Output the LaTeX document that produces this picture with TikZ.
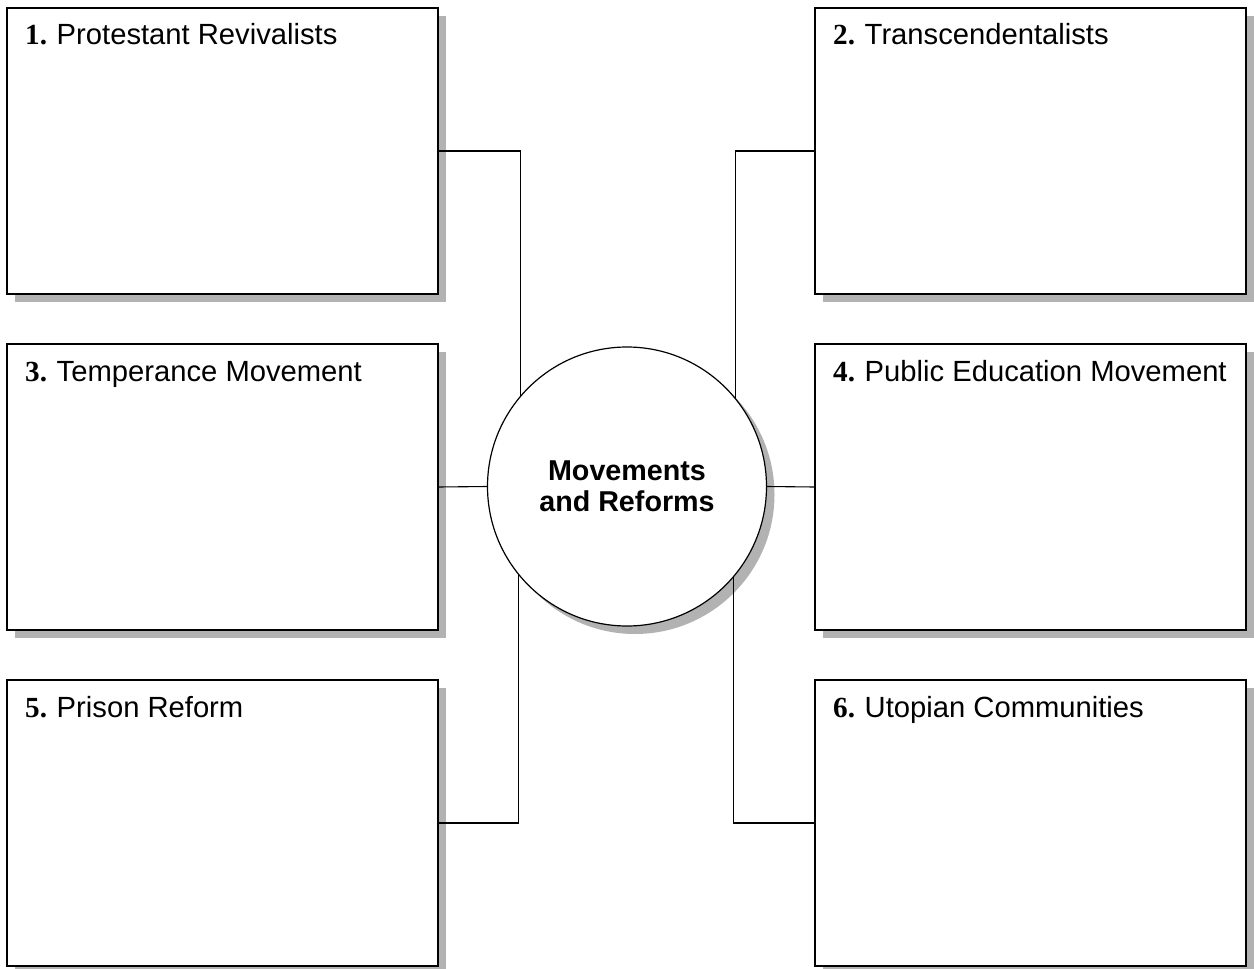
\documentclass[tikz,border=0pt]{standalone}
\usepackage{fontspec}
\setmainfont{Liberation Sans}
\newfontfamily\numfont{Liberation Serif}
\usetikzlibrary{shadows}
\begin{document}
\begin{tikzpicture}[x=1pt,y=-1pt,
  shadowed/.style={drop shadow={shadow xshift=8pt,shadow yshift=-8pt,fill=black!30,opacity=1}},
  box/.style={draw=black,line width=1.3pt,fill=white,minimum width=431pt,minimum height=286pt,inner sep=0pt,outer sep=0pt,anchor=north west,shadowed},
  hub/.style={draw=black,line width=1.2pt,fill=white,circle,minimum size=279pt,inner sep=0pt,outer sep=0pt,shadowed,align=center,font=\fontsize{28.7}{30.5}\selectfont\bfseries},
  lbl/.style={anchor=base west,inner sep=0pt,font=\fontsize{29.2}{32}\selectfont},
  conn/.style={draw=black,line width=1.1pt}
]
\useasboundingbox (0,0) rectangle (1254,969);
\node[box] (b1) at (7,8) {};
\node[box] (b2) at (815,8) {};
\node[box] (b3) at (7,344) {};
\node[box] (b4) at (815,344) {};
\node[box] (b5) at (7,680) {};
\node[box] (b6) at (815,680) {};
\node[hub] (c) at (627,486.5) {Movements\\and Reforms};

\node[lbl] (t1) at (25,45) {{\numfont\bfseries 1.}\hspace{0.33em}Protestant Revivalists};
\node[lbl] (t2) at (833,45) {{\numfont\bfseries 2.}\hspace{0.33em}Transcendentalists};
\node[lbl] (t3) at (25,381) {{\numfont\bfseries 3.}\hspace{0.33em}Temperance Movement};
\node[lbl] (t4) at (833,381) {{\numfont\bfseries 4.}\hspace{0.33em}Public Education Movement};
\node[lbl] (t5) at (25,717) {{\numfont\bfseries 5.}\hspace{0.33em}Prison Reform};
\node[lbl] (t6) at (833,717) {{\numfont\bfseries 6.}\hspace{0.33em}Utopian Communities};

\draw[conn] (b1.east) -| (c.140.7);
\draw[conn] (b5.east) -| (c.219.3);
\draw[conn] (b2.west) -| (c.39.3);
\draw[conn] (b6.west) -| (c.320.7);
\draw[conn] (b3.east) -- (c.west);
\draw[conn] (c.east) -- (b4.west);
\end{tikzpicture}
\end{document}
